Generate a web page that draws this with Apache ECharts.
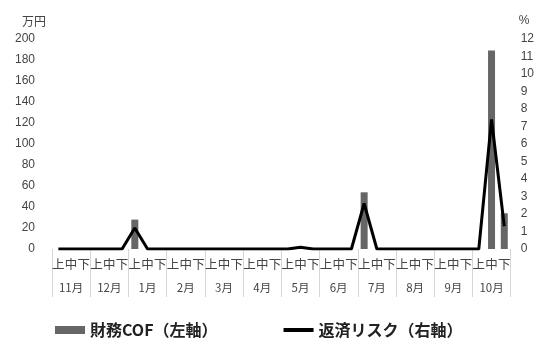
<!DOCTYPE html>
<html>
<head>
<meta charset="utf-8">
<script src="https://cdn.jsdelivr.net/npm/echarts@6/dist/echarts.min.js"></script>
<style>
  html, body { margin: 0; padding: 0; background: #fff; }
  #chart { width: 537px; height: 341px; }
</style>
</head>
<body>
<div id="chart"></div>
<script>
// 旬ごとの区分（上・中・下）× 12か月
const months = ['11月', '12月', '1月', '2月', '3月', '4月', '5月', '6月', '7月', '8月', '9月', '10月'];
const periods = ['上', '中', '下'];
const categories = months.flatMap(m => periods.map(p => m + p));

// 財務COF（万円, 左軸）
const cofValues = [
  0, 0, 0,   0, 0, 0,   28, 0, 0,   0, 0, 0,
  0, 0, 0,   0, 0, 0,   0, 0, 0,    0, 0, 0,
  54, 0, 0,  0, 0, 0,   0, 0, 0,    0, 189, 34
];
// 返済リスク（%, 右軸）
const riskValues = [
  0, 0, 0,    0, 0, 0,   1.2, 0, 0,   0, 0, 0,
  0, 0, 0,    0, 0, 0,   0, 0.1, 0,   0, 0, 0,
  2.6, 0, 0,  0, 0, 0,   0, 0, 0,     0, 7.4, 1.3
];

const textColor = '#444';
const jpFont = '"Noto Sans CJK JP", sans-serif';
const numFont = '"Liberation Sans", sans-serif';

const chart = echarts.init(document.getElementById('chart'));

const options = {
  animation: false,
  grid: { left: 52, right: 26, top: 39, bottom: 92 },
  legend: {
    left: 55,
    top: 322,
    padding: 0,
    itemWidth: 30,
    itemHeight: 8,
    itemGap: 66,
    textStyle: { fontSize: 16, fontWeight: 'bold', color: '#222', fontFamily: jpFont },
    data: [
      { name: '財務COF（左軸）', icon: 'rect' },
      { name: '返済リスク（右軸）', icon: 'path://M0,0 H30 V4 H0 Z', itemStyle: { color: '#000' } }
    ]
  },
  xAxis: [
    {
      type: 'category',
      position: 'bottom',
      data: categories,
      axisLine: { show: false },
      axisTick: { show: false },
      axisLabel: {
        interval: 0,
        margin: 9,
        fontSize: 12.5,
        color: textColor,
        fontFamily: jpFont,
        formatter: v => v.slice(-1)
      }
    },
    {
      type: 'category',
      position: 'bottom',
      offset: 0,
      data: months,
      axisLine: { show: false },
      axisTick: { show: true, length: 48, lineStyle: { color: '#d6d6d6', width: 1 } },
      axisLabel: {
        interval: 0,
        margin: 33,
        fontSize: 11.5,
        color: textColor,
        fontFamily: jpFont
      }
    }
  ],
  yAxis: [
    {
      type: 'value',
      name: '万円',
      nameGap: 12,
      nameTextStyle: { color: textColor, fontSize: 12, fontFamily: jpFont, align: 'right', padding: [0, 6, 0, 0] },
      min: 0,
      max: 200,
      interval: 20,
      splitLine: { show: false },
      axisLine: { show: false },
      axisTick: { show: false },
      axisLabel: { margin: 17, fontSize: 12, color: textColor, fontFamily: numFont }
    },
    {
      type: 'value',
      name: '%',
      nameGap: 12,
      nameTextStyle: { color: textColor, fontSize: 12, fontFamily: numFont, align: 'left', padding: [0, 0, 0, 8] },
      min: 0,
      max: 12,
      interval: 1,
      splitLine: { show: false },
      axisLine: { show: false },
      axisTick: { show: false },
      axisLabel: { margin: 10, fontSize: 12, color: textColor, fontFamily: numFont }
    }
  ],
  series: [
    {
      name: '財務COF（左軸）',
      type: 'bar',
      xAxisIndex: 0,
      yAxisIndex: 0,
      barWidth: 7,
      itemStyle: { color: '#666666' },
      data: cofValues
    },
    {
      name: '返済リスク（右軸）',
      type: 'line',
      xAxisIndex: 0,
      yAxisIndex: 1,
      symbol: 'none',
      lineStyle: { color: '#000', width: 3 },
      itemStyle: { color: '#000' },
      data: riskValues
    }
  ]
};

chart.setOption(options);
</script>
</body>
</html>
